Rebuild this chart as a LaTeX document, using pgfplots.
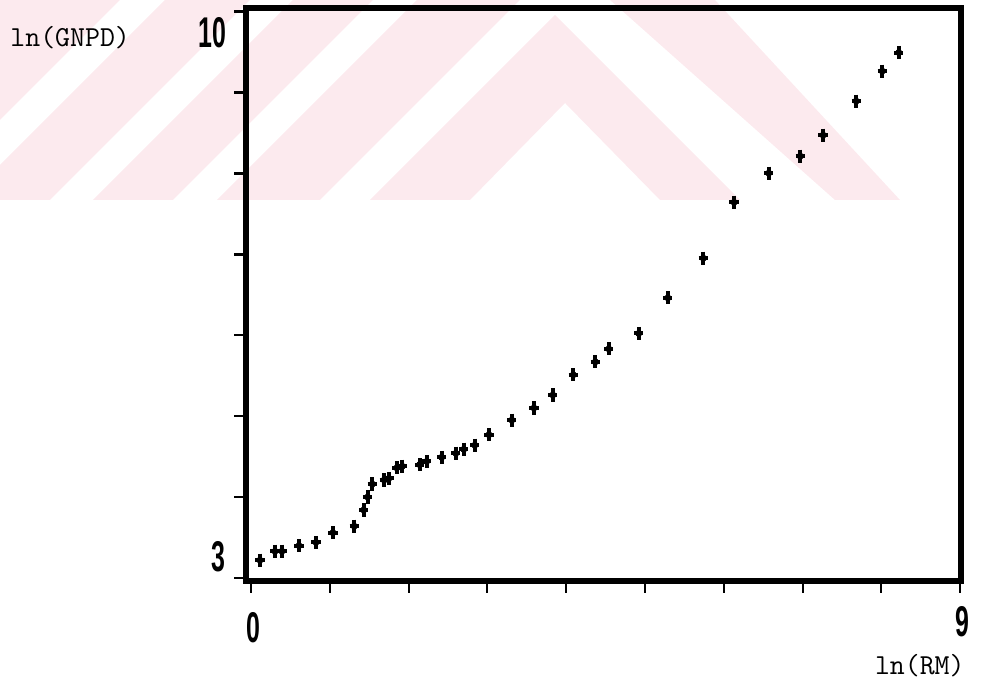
\documentclass[border=0pt]{standalone}
\usepackage{fontspec}
\usepackage{pgfplots}
\usepackage{graphicx}
\pgfplotsset{compat=1.18}
\newfontfamily\dg{Liberation Sans}
\definecolor{wm}{RGB}{252,234,238}
\newcommand{\dgt}[1]{\scalebox{0.58}[1]{\dg\bfseries\fontsize{21.5}{21.5}\selectfont #1}}
\pgfplotstableread{
x y
0.114 3.22
0.305 3.33
0.393 3.33
0.609 3.40
0.825 3.44
1.04 3.56
1.31 3.64
1.43 3.84
1.48 4.00
1.54 4.16
1.69 4.21
1.75 4.23
1.85 4.36
1.92 4.38
2.14 4.40
2.23 4.44
2.42 4.49
2.60 4.54
2.70 4.59
2.84 4.64
3.02 4.77
3.31 4.95
3.59 5.10
3.83 5.26
4.09 5.51
4.37 5.67
4.54 5.83
4.92 6.02
5.29 6.46
5.74 6.95
6.13 7.64
6.57 8.00
6.97 8.21
7.26 8.47
7.68 8.89
8.01 9.26
8.22 9.49
}\datatable
\begin{document}
\begin{tikzpicture}
% background watermark (scan artefact), image pixel coordinates
\begin{scope}[shift={(0pt,344.5pt)},x=0.5pt,y=-0.5pt]
\fill[wm] (555,15) -- (740,200) -- (660,200) -- (565,103) -- (470,200) -- (370,200) -- cycle;
\fill[wm] (610,0) -- (715,0) -- (900,200) -- (835,200) -- cycle;
\fill[wm] (417,0) -- (520,0) -- (320,200) -- (217,200) -- cycle;
\fill[wm] (293,0) -- (373,0) -- (173,200) -- (93,200) -- cycle;
\fill[wm] (165,0) -- (250,0) -- (50,200) -- (0,200) -- (0,165) -- cycle;
\fill[wm] (0,0) -- (120,0) -- (0,120) -- cycle;
\end{scope}
\begin{axis}[
  at={(123pt,54pt)}, anchor=south west,
  scale only axis, width=357.5pt, height=286.5pt,
  xmin=-0.063, xmax=9.01, ymin=2.963, ymax=10.04,
  xtick={0,...,9}, ytick={3,...,10},
  xticklabel=\empty, yticklabel=\empty,
  tick pos=left, tick align=outside,
  major tick length=6pt,
  ytick style={line width=1.4pt, black},
  xtick style={line width=1pt, black},
  axis line style={line width=2.8pt, black, line join=miter},
  clip=false,
]
\addplot[only marks, black, mark=+, mark size=3.3pt,
  mark options={line width=2pt, xscale=0.7}] table {\datatable};
\addplot[only marks, black, mark=*, mark size=1.5pt] table {\datatable};
\end{axis}
\node[anchor=west, inner sep=0pt] at (5pt,325.5pt) {\ttfamily\fontsize{14.5}{16}\selectfont ln(GNPD)};
\node[anchor=east, inner sep=0pt] at (482.5pt,11.5pt) {\ttfamily\fontsize{14.5}{16}\selectfont ln(RM)};
\node[inner sep=0pt] at (106pt,328pt) {\dgt{10}};
\node[inner sep=0pt] at (109pt,66pt) {\dgt{3}};
\node[inner sep=0pt] at (126.5pt,30.5pt) {\dgt{0}};
\node[inner sep=0pt] at (481pt,33.5pt) {\dgt{9}};
\pgfresetboundingbox
\path[use as bounding box] (0,0) rectangle (491.5pt,344.5pt);
\end{tikzpicture}
\end{document}
